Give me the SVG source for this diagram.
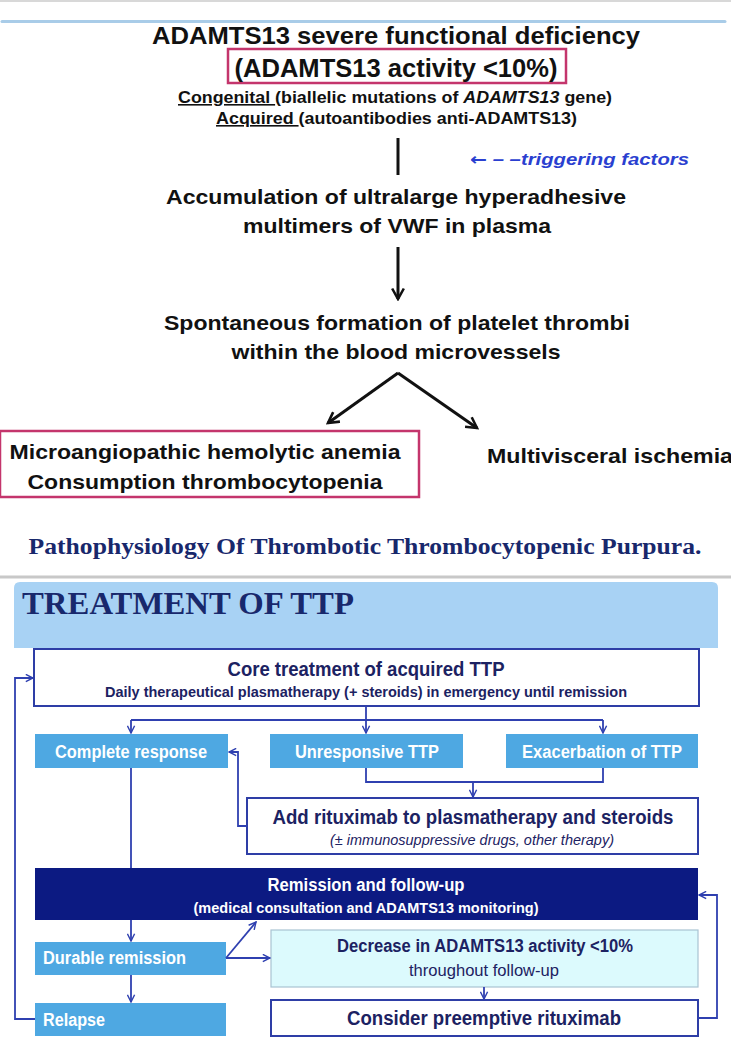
<svg xmlns="http://www.w3.org/2000/svg" width="731" height="1057" viewBox="0 0 731 1057">
<style>
.t{font-family:"Liberation Sans","DejaVu Sans",Arial,sans-serif;font-weight:bold;fill:#111;}
.n{font-family:"Liberation Sans","DejaVu Sans",Arial,sans-serif;font-weight:bold;fill:#1c2262;}
.w{font-family:"Liberation Sans","DejaVu Sans",Arial,sans-serif;font-weight:bold;fill:#fff;}
.r{font-family:"Liberation Sans","DejaVu Sans",Arial,sans-serif;font-weight:normal;fill:#1c2262;}
.s{font-family:"Liberation Serif","Times New Roman",serif;font-weight:bold;fill:#18286c;}
.pink{fill:none;stroke:#c4356c;stroke-width:2.5;}
.lb{fill:#4ea8e2;}
.wb{fill:#fff;stroke:#2e3ea6;stroke-width:2;}
.bk{stroke:#111;stroke-width:3;fill:none;}
.bl{stroke:#2f40b0;stroke-width:1.8;fill:none;}
</style>
<defs>
<marker id="ak" viewBox="0 0 12 12" refX="10" refY="6" markerWidth="14" markerHeight="14" markerUnits="userSpaceOnUse" orient="auto">
<path d="M1,1 L10,6 L1,11" fill="none" stroke="#111" stroke-width="2.2"/>
</marker>
<marker id="ab" viewBox="0 0 10 10" refX="9" refY="5" markerWidth="9" markerHeight="9" markerUnits="userSpaceOnUse" orient="auto">
<path d="M1,1 L9,5 L1,9" fill="none" stroke="#2f40b0" stroke-width="1.6"/>
</marker>
</defs>
<rect width="731" height="1057" fill="#fff"/>
<line x1="0" y1="1" x2="731" y2="1" stroke="#d8d8d8" stroke-width="2"/>
<line x1="2" y1="21.5" x2="725" y2="21.5" stroke="#a9cce8" stroke-width="3" stroke-linecap="round"/>

<g id="n-deficiency">
<text class="t" x="396" y="44" font-size="24" text-anchor="middle" textLength="488" lengthAdjust="spacingAndGlyphs">ADAMTS13 severe functional deficiency</text>
<rect class="pink" x="228" y="49" width="338" height="34"/>
<text class="t" x="396" y="77" font-size="25" text-anchor="middle" textLength="323" lengthAdjust="spacingAndGlyphs">(ADAMTS13 activity &lt;10%)</text>
<text class="t" x="178" y="103" font-size="16" textLength="434" lengthAdjust="spacingAndGlyphs"><tspan text-decoration="underline">Congenital </tspan>(biallelic mutations of <tspan font-style="italic">ADAMTS13</tspan> gene)</text>
<text class="t" x="216" y="124" font-size="16" textLength="361" lengthAdjust="spacingAndGlyphs"><tspan text-decoration="underline">Acquired </tspan>(autoantibodies anti-ADAMTS13)</text>
</g>
<g id="n-trigger">
<text x="470" y="165" font-family="Liberation Sans,DejaVu Sans,sans-serif" font-weight="bold" font-style="italic" font-size="17" fill="#2a3fd0" textLength="219" lengthAdjust="spacingAndGlyphs"><tspan font-family="DejaVu Sans,sans-serif" font-style="normal">←</tspan> – –triggering factors</text>
</g>
<g id="n-accumulation">
<text class="t" x="396" y="204" font-size="21" text-anchor="middle" textLength="460" lengthAdjust="spacingAndGlyphs">Accumulation of ultralarge hyperadhesive</text>
<text class="t" x="397" y="233" font-size="21" text-anchor="middle" textLength="308" lengthAdjust="spacingAndGlyphs">multimers of VWF in plasma</text>
</g>
<g id="n-thrombi">
<text class="t" x="397" y="330" font-size="21" text-anchor="middle" textLength="466" lengthAdjust="spacingAndGlyphs">Spontaneous formation of platelet thrombi</text>
<text class="t" x="396" y="359" font-size="21" text-anchor="middle" textLength="329" lengthAdjust="spacingAndGlyphs">within the blood microvessels</text>
</g>
<g id="n-anemia">
<rect class="pink" x="0" y="431" width="419" height="66"/>
<text class="t" x="205" y="459" font-size="21" text-anchor="middle" textLength="391" lengthAdjust="spacingAndGlyphs">Microangiopathic hemolytic anemia</text>
<text class="t" x="205" y="489" font-size="21" text-anchor="middle" textLength="355" lengthAdjust="spacingAndGlyphs">Consumption thrombocytopenia</text>
</g>
<g id="n-ischemia">
<text class="t" x="487" y="463" font-size="21" textLength="246" lengthAdjust="spacingAndGlyphs">Multivisceral ischemia</text>
</g>
<g id="caption1">
<text class="s" x="365" y="554" font-size="23" text-anchor="middle" textLength="673" lengthAdjust="spacingAndGlyphs">Pathophysiology Of Thrombotic Thrombocytopenic Purpura.</text>
</g>

<line x1="0" y1="577" x2="731" y2="577" stroke="#c8c8c8" stroke-width="3"/>

<g id="header">
<path d="M14,648 L14,588 Q14,582 20,582 L712,582 Q718,582 718,588 L718,648 Z" fill="#a8d2f4"/>
<text class="s" x="22" y="614" font-size="31" textLength="332" lengthAdjust="spacingAndGlyphs">TREATMENT OF TTP</text>
</g>

<g id="n-core">
<rect class="wb" x="34" y="649" width="665" height="57"/>
<text class="n" x="366" y="676" font-size="20" text-anchor="middle" textLength="277" lengthAdjust="spacingAndGlyphs">Core treatment of acquired TTP</text>
<text class="n" x="366" y="697" font-size="15" text-anchor="middle" textLength="522" lengthAdjust="spacingAndGlyphs">Daily therapeutical plasmatherapy (+ steroids) in emergency until remission</text>
</g>
<g id="n-complete">
<rect class="lb" x="35" y="734" width="193" height="34"/>
<text class="w" x="131" y="758" font-size="18" text-anchor="middle" textLength="152" lengthAdjust="spacingAndGlyphs">Complete response</text>
</g>
<g id="n-unresponsive">
<rect class="lb" x="270" y="734" width="193" height="34"/>
<text class="w" x="367" y="758" font-size="18" text-anchor="middle" textLength="144" lengthAdjust="spacingAndGlyphs">Unresponsive TTP</text>
</g>
<g id="n-exacerbation">
<rect class="lb" x="506" y="734" width="192" height="34"/>
<text class="w" x="602" y="758" font-size="18" text-anchor="middle" textLength="160" lengthAdjust="spacingAndGlyphs">Exacerbation of TTP</text>
</g>
<g id="n-rituximab">
<rect class="wb" x="247" y="798" width="451" height="56"/>
<text class="n" x="473" y="824" font-size="20" text-anchor="middle" textLength="401" lengthAdjust="spacingAndGlyphs">Add rituximab to plasmatherapy and steroids</text>
<text class="r" x="472" y="845" font-size="15" font-style="italic" text-anchor="middle" textLength="284" lengthAdjust="spacingAndGlyphs">(± immunosuppressive drugs, other therapy)</text>
</g>
<g id="n-remission">
<rect x="35" y="868" width="663" height="52" fill="#0c1a82"/>
<text class="w" x="366" y="891" font-size="18" text-anchor="middle" textLength="197" lengthAdjust="spacingAndGlyphs">Remission and follow-up</text>
<text class="w" x="366" y="913" font-size="15" text-anchor="middle" textLength="345" lengthAdjust="spacingAndGlyphs">(medical consultation and ADAMTS13 monitoring)</text>
</g>
<g id="n-durable">
<rect class="lb" x="35" y="942" width="191" height="33"/>
<text class="w" x="43" y="964" font-size="18" textLength="143" lengthAdjust="spacingAndGlyphs">Durable remission</text>
</g>
<g id="n-relapse">
<rect class="lb" x="35" y="1003" width="191" height="33"/>
<text class="w" x="43" y="1026" font-size="18" textLength="62" lengthAdjust="spacingAndGlyphs">Relapse</text>
</g>
<g id="n-decrease">
<rect x="271" y="930" width="427" height="57" fill="#dcfafd" stroke="#a9c3d3" stroke-width="1.2"/>
<text class="n" x="485" y="952" font-size="18" text-anchor="middle" textLength="296" lengthAdjust="spacingAndGlyphs">Decrease in ADAMTS13 activity &lt;10%</text>
<text class="r" x="484" y="976" font-size="16" text-anchor="middle" textLength="150" lengthAdjust="spacingAndGlyphs">throughout follow-up</text>
</g>
<g id="n-preemptive">
<rect class="wb" x="271" y="1000" width="427" height="36"/>
<text class="n" x="484" y="1025" font-size="20" text-anchor="middle" textLength="274" lengthAdjust="spacingAndGlyphs">Consider preemptive rituximab</text>
</g>

<g id="connectors">
<line class="bk" x1="398" y1="138" x2="398" y2="175" stroke-width="3.5"/>
<line class="bk" x1="398" y1="247" x2="398" y2="299" marker-end="url(#ak)"/>
<line class="bk" x1="398" y1="373" x2="328" y2="423" marker-end="url(#ak)"/>
<line class="bk" x1="398" y1="373" x2="477" y2="428" marker-end="url(#ak)"/>

<polyline class="bl" points="35,1019 15,1019 15,678 33,678" marker-end="url(#ab)"/>
<line class="bl" x1="366" y1="706" x2="366" y2="720"/>
<line class="bl" x1="131" y1="720" x2="603" y2="720"/>
<line class="bl" x1="131" y1="720" x2="131" y2="733" marker-end="url(#ab)"/>
<line class="bl" x1="366" y1="720" x2="366" y2="733" marker-end="url(#ab)"/>
<line class="bl" x1="603" y1="720" x2="603" y2="733" marker-end="url(#ab)"/>
<polyline class="bl" points="366,768 366,782 603,782 603,768"/>
<line class="bl" x1="473" y1="782" x2="473" y2="797" marker-end="url(#ab)"/>
<polyline class="bl" points="247,826 238,826 238,752 229,752" marker-end="url(#ab)"/>
<line class="bl" x1="131" y1="768" x2="131" y2="868"/>
<line class="bl" x1="131" y1="920" x2="131" y2="941" marker-end="url(#ab)"/>
<line class="bl" x1="131" y1="975" x2="131" y2="1002" marker-end="url(#ab)"/>
<line class="bl" x1="226" y1="958" x2="256" y2="922" marker-end="url(#ab)"/>
<line class="bl" x1="226" y1="958" x2="270" y2="958" marker-end="url(#ab)"/>
<line class="bl" x1="484" y1="987" x2="484" y2="999" marker-end="url(#ab)"/>
<polyline class="bl" points="698,1018 717,1018 717,895 699,895" marker-end="url(#ab)"/>
</g>
</svg>
